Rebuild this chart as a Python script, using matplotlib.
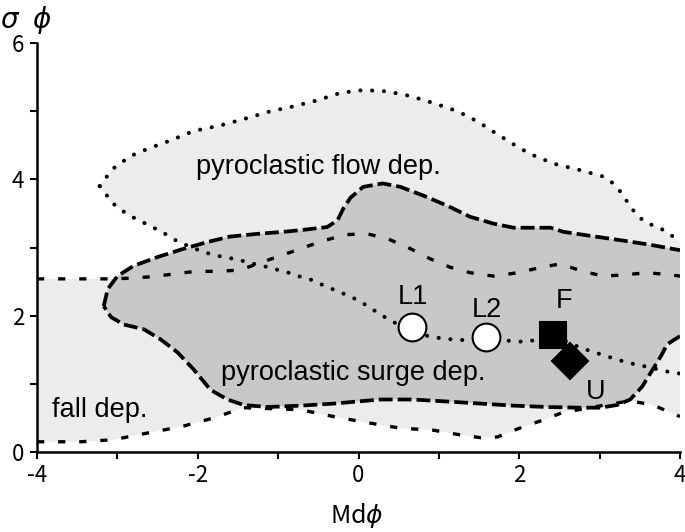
import matplotlib
matplotlib.use("Agg")
import matplotlib.pyplot as plt
from matplotlib.patches import Polygon
from matplotlib.ticker import MultipleLocator

plt.rcParams['lines.scale_dashes'] = False
plt.rcParams['axes.unicode_minus'] = False

# --- Pyroclastic flow deposit field (dotted boundary) ---
flow_top_x = [-3.22, -3.18, -3.05, -2.84, -2.62, -2.34, -2.05, -1.72, -1.38, -1.09, -0.81, -0.51, -0.22,
              0.06, 0.36, 0.65, 0.93, 1.23, 1.48, 1.73, 1.99, 2.14, 2.43, 2.74, 3.05, 3.17, 3.28,
              3.36, 3.46, 3.58, 3.73, 3.87, 4.00]
flow_top_y = [3.90, 3.97, 4.16, 4.34, 4.45, 4.57, 4.71, 4.79, 4.90, 5.00, 5.07, 5.16, 5.27,
              5.31, 5.29, 5.22, 5.12, 5.00, 4.85, 4.66, 4.47, 4.37, 4.23, 4.14, 4.04, 3.94, 3.79,
              3.64, 3.48, 3.36, 3.30, 3.20, 3.08]
flow_bot_x = [-3.22, -3.14, -3.08, -2.94, -2.80, -2.65, -2.50, -2.36, -2.24, -1.94, -1.80, -1.63, -1.49,
              -1.34, -1.19, -1.03, -0.87, -0.72, -0.57, -0.41, -0.26, -0.12, 0.02, 0.27, 0.44,
              0.67, 0.86, 1.02, 1.18, 1.33, 1.59, 1.80, 1.98, 2.11, 2.42, 2.76, 3.10, 3.35,
              3.63, 3.84, 4.00]
flow_bot_y = [3.90, 3.78, 3.67, 3.54, 3.44, 3.35, 3.26, 3.17, 3.08, 2.94, 2.89, 2.85, 2.82,
              2.77, 2.73, 2.68, 2.63, 2.57, 2.52, 2.43, 2.36, 2.29, 2.21, 2.02, 1.90,
              1.84, 1.70, 1.67, 1.65, 1.64, 1.69, 1.64, 1.62, 1.62, 1.71, 1.53, 1.40, 1.31,
              1.24, 1.18, 1.15]

# --- Pyroclastic surge deposit field (long-dash boundary, closed) ---
surge_x = [-3.17, -3.12, -3.00, -2.80, -2.50, -2.18, -1.88, -1.60, -1.26, -0.93, -0.68, -0.39, -0.26,
           -0.19, -0.10, 0.06, 0.30, 0.52, 0.81, 1.11, 1.39, 1.68, 1.93, 2.39, 2.55, 2.89,
           3.30, 3.63, 4.00, 4.00, 3.84, 3.76, 3.66, 3.53, 3.38, 3.22, 3.01, 2.76, 2.35,
           1.93, 1.52, 1.11, 0.68, 0.27, -0.31, -0.72, -1.13, -1.43, -1.63, -1.84, -2.05,
           -2.25, -2.46, -2.67, -2.92, -3.08, -3.17]
surge_y = [2.14, 2.39, 2.58, 2.73, 2.86, 2.98, 3.08, 3.16, 3.20, 3.23, 3.26, 3.30, 3.40,
           3.57, 3.73, 3.89, 3.94, 3.89, 3.76, 3.61, 3.45, 3.35, 3.29, 3.29, 3.23, 3.17,
           3.10, 3.04, 2.96, 1.70, 1.58, 1.40, 1.21, 0.96, 0.77, 0.69, 0.65, 0.65, 0.66,
           0.68, 0.71, 0.74, 0.77, 0.77, 0.71, 0.68, 0.66, 0.69, 0.77, 0.91, 1.21,
           1.46, 1.65, 1.80, 1.87, 1.98, 2.14]

# --- Fall deposit field (short-dash boundary) ---
fall_top_x = [-4.00, -3.46, -3.05, -2.84, -2.59, -2.30, -2.03, -1.75, -1.47, -1.26, -0.97, -0.70, -0.44,
              -0.14, 0.11, 0.36, 0.65, 0.90, 1.14, 1.39, 1.68, 1.98, 2.24, 2.51, 2.79, 3.05,
              3.32, 3.59, 3.88, 4.00]
fall_top_y = [2.54, 2.54, 2.54, 2.55, 2.57, 2.61, 2.65, 2.65, 2.67, 2.76, 2.88, 2.99, 3.10,
              3.19, 3.20, 3.13, 2.98, 2.83, 2.71, 2.63, 2.58, 2.63, 2.70, 2.76, 2.65, 2.58,
              2.60, 2.63, 2.60, 2.58]
fall_bot_x = [-4.00, -3.46, -3.05, -2.62, -2.21, -1.80, -1.43, -0.72, -0.31, 0.11, 0.52, 0.93, 1.27,
              1.52, 1.73, 1.85, 2.05, 2.30, 2.54, 2.79, 3.07, 3.38, 3.66, 3.88, 4.00]
fall_bot_y = [0.15, 0.15, 0.18, 0.28, 0.37, 0.50, 0.65, 0.62, 0.52, 0.43, 0.35, 0.32, 0.25,
              0.21, 0.22, 0.28, 0.37, 0.47, 0.58, 0.63, 0.69, 0.75, 0.69, 0.58, 0.52]

# --- Samples ---
sample_names = ['L1', 'L2', 'F', 'U']
sample_x = [0.67, 1.59, 2.42, 2.63]
sample_y = [1.84, 1.69, 1.71, 1.33]

field_names = ['pyroclastic flow dep.', 'pyroclastic surge dep.', 'fall dep.']

LIGHT = '#ececec'
DARK = '#c8c8c8'

fig = plt.figure(figsize=(6.85, 5.32), dpi=100)
ax = fig.add_axes([37/685, 1 - 452/532, 643/685, 409/532])
ax.set_xlim(-4, 4)
ax.set_ylim(0, 6)

# fills
fall_poly = list(zip(fall_top_x, fall_top_y)) + list(zip(fall_bot_x[::-1], fall_bot_y[::-1]))
ax.add_patch(Polygon(fall_poly, closed=True, facecolor=LIGHT, edgecolor='none', zorder=1))
flow_poly = list(zip(flow_top_x, flow_top_y)) + list(zip(flow_bot_x[::-1], flow_bot_y[::-1]))
ax.add_patch(Polygon(flow_poly, closed=True, facecolor=LIGHT, edgecolor='none', zorder=1))
ax.add_patch(Polygon(list(zip(surge_x, surge_y)), closed=True, facecolor=DARK, edgecolor='none', zorder=2))

# boundaries
short_dash = (0, (5.2, 10.0))
long_dash = (0, (10.0, 3.6))
dots = (0, (0.1, 8.4))
ax.plot(fall_top_x, fall_top_y, color='black', lw=2.4, linestyle=short_dash, zorder=3)
ax.plot(fall_bot_x, fall_bot_y, color='black', lw=2.4, linestyle=short_dash, zorder=3)
ax.plot(flow_top_x, flow_top_y, color='black', lw=2.9, linestyle=dots, dash_capstyle='round', zorder=3)
ax.plot(flow_bot_x, flow_bot_y, color='black', lw=2.9, linestyle=dots, dash_capstyle='round', zorder=3)
# surge boundary except the clipped right edge
edge_i = surge_x.index(4.00)
ax.plot(surge_x[:edge_i + 1], surge_y[:edge_i + 1], color='black', lw=2.7, linestyle=long_dash, zorder=4)
ax.plot(surge_x[edge_i + 1:], surge_y[edge_i + 1:], color='black', lw=2.7, linestyle=long_dash, zorder=4)

# markers
mk = {'L1': ('o', 'white', 20), 'L2': ('o', 'white', 20), 'F': ('s', 'black', 19), 'U': ('D', 'black', 18)}
for n, x, y in zip(sample_names, sample_x, sample_y):
    m, fc, s = mk[n]
    ax.plot([x], [y], marker=m, markersize=s, markerfacecolor=fc, markeredgecolor='black',
            markeredgewidth=1.5, linestyle='none', zorder=5)

label_off = {'L1': (0.01, 0.43), 'L2': (0.01, 0.40), 'F': (0.14, 0.50), 'U': (0.32, -0.45)}
tfont = dict(family='Liberation Sans', fontsize=19.5, color='black')
for n, x, y in zip(sample_names, sample_x, sample_y):
    dx, dy = label_off[n]
    ax.text(x + dx, y + dy, n, ha='center', va='center', zorder=6, **tfont)

ax.text(-0.5, 4.18, field_names[0], ha='center', va='center', zorder=6, **tfont)
ax.text(-0.06, 1.16, field_names[1], ha='center', va='center', zorder=6, **tfont)
ax.text(-3.22, 0.62, field_names[2], ha='center', va='center', zorder=6, **tfont)

# axes styling
for s in ['top', 'right']:
    ax.spines[s].set_visible(False)
for s in ['left', 'bottom']:
    ax.spines[s].set_linewidth(1.8)
ax.xaxis.set_major_locator(MultipleLocator(2))
ax.xaxis.set_minor_locator(MultipleLocator(1))
ax.yaxis.set_major_locator(MultipleLocator(2))
ax.yaxis.set_minor_locator(MultipleLocator(1))
ax.tick_params(which='both', direction='out', length=5, width=1.5, color='black')
ax.tick_params(axis='both', which='major', labelsize=16, pad=4)
for lab in ax.get_xticklabels() + ax.get_yticklabels():
    lab.set_family(['Noto Sans CJK JP', 'DejaVu Sans'])

fig.text(0.0, 0.963, r'$\sigma\;\;\phi$', fontsize=20, ha='left', va='center')
fig.text(357/685, 1 - 516/532, r'Md$\phi$', fontsize=18, ha='center', va='center',
         family=['Noto Sans CJK JP', 'DejaVu Sans'])

fig.savefig('out.png', dpi=100)
